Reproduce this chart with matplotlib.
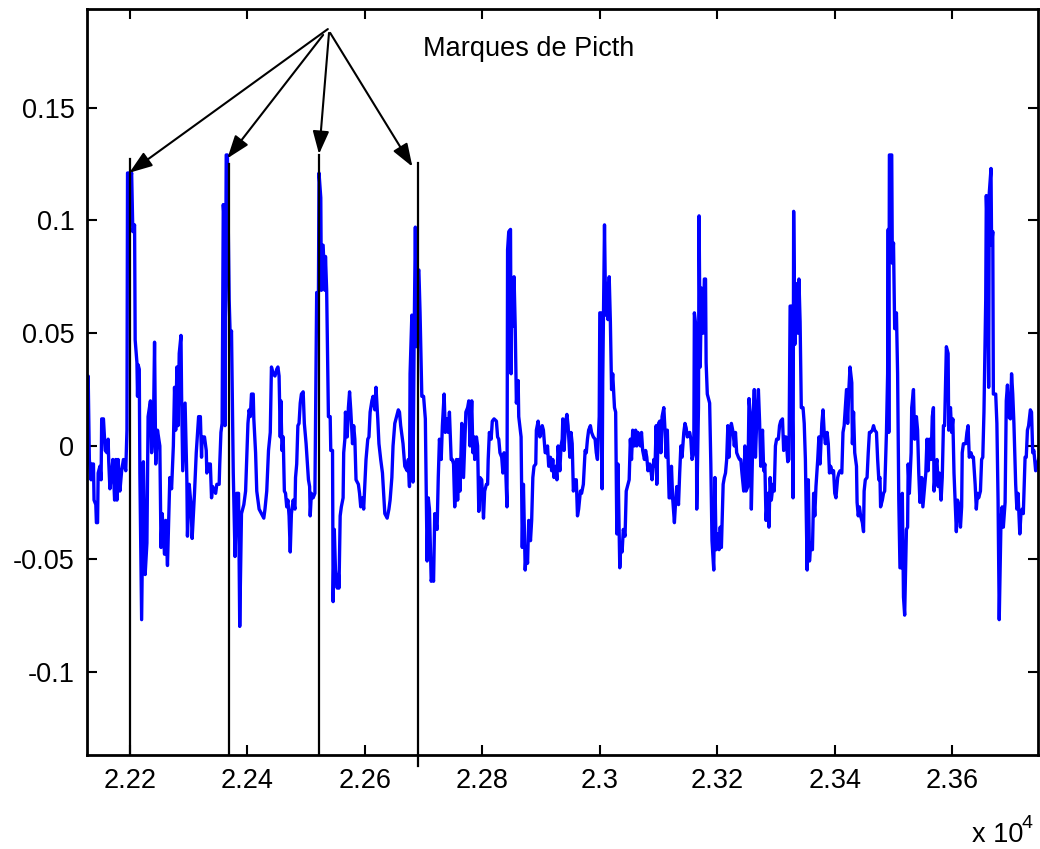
import matplotlib
matplotlib.use("Agg")
import matplotlib.pyplot as plt
from matplotlib.ticker import FixedLocator, FuncFormatter

plt.rcParams['font.family'] = ['Liberation Sans', 'DejaVu Sans']
plt.rcParams['axes.unicode_minus'] = False

# ---- speech signal (sample index, amplitude) ----
cycle1 = [(22127, 0.010), (22129, 0.031), (22131, -0.006), (22134, -0.015), (22135, -0.008),
          (22138, -0.008), (22139, -0.024), (22142, -0.026), (22143, -0.034), (22145, -0.034),
          (22146, -0.012), (22149, -0.009), (22151, -0.015), (22152, 0.012), (22155, 0.012),
          (22158, -0.002), (22161, -0.003), (22163, 0.003), (22164, -0.007), (22166, -0.019),
          (22169, -0.012), (22171, -0.006), (22174, -0.024), (22176, -0.006), (22178, -0.024),
          (22180, -0.006), (22183, -0.020), (22186, -0.011), (22189, -0.006), (22193, -0.011),
          (22195, 0.007), (22196, 0.121), (22198, 0.121), (22201, 0.118), (22203, 0.121),
          (22205, 0.095), (22208, 0.098), (22209, 0.047), (22212, 0.037), (22213, 0.022),
          (22214, 0.036), (22216, 0.034), (22217, -0.012), (22220, -0.077), (22223, -0.007),
          (22226, -0.057), (22229, -0.043), (22231, 0.013), (22235, 0.020), (22237, -0.003),
          (22240, 0.007), (22242, 0.046), (22244, -0.008), (22247, 0.007), (22251, 0.000),
          (22253, -0.045), (22255, -0.030), (22259, -0.048), (22261, -0.033), (22264, -0.053),
          (22268, -0.014), (22271, -0.019), (22274, 0.000), (22276, 0.026), (22278, 0.007),
          (22280, 0.035), (22282, 0.009), (22284, 0.041), (22287, 0.049), (22288, 0.023),
          (22290, -0.011), (22294, 0.019), (22297, -0.015), (22298, -0.040), (22301, -0.017),
          (22304, -0.026), (22306, -0.041), (22310, -0.021), (22313, -0.003), (22317, 0.013),
          (22320, 0.013), (22322, -0.005), (22323, 0.004), (22327, 0.004), (22330, -0.002),
          (22331, -0.012), (22334, -0.008), (22337, -0.008), (22339, -0.023), (22341, -0.018),
          (22346, -0.021), (22348, -0.017), (22352, -0.017), (22353, -0.008), (22355, 0.006),
          (22357, 0.010), (22359, 0.107), (22361, 0.098), (22362, 0.009), (22364, 0.129),
          (22366, 0.129), (22369, 0.065), (22371, 0.047), (22373, 0.051), (22376, -0.012),
          (22379, -0.049), (22382, -0.021), (22385, -0.021), (22387, -0.080), (22390, -0.030),
          (22394, -0.026), (22397, -0.020), (22401, 0.010), (22403, 0.016), (22405, 0.013),
          (22407, 0.023), (22410, 0.023), (22411, 0.012), (22414, -0.003), (22416, -0.020),
          (22420, -0.028), (22424, -0.030), (22428, -0.032), (22430, -0.028), (22433, -0.020),
          (22436, -0.002), (22439, 0.006), (22441, 0.035), (22444, 0.032)]

cycle2 = [(22447, 0.031), (22450, 0.034), (22452, 0.035), (22454, 0.031), (22456, 0.004),
          (22457, 0.020), (22459, -0.002), (22461, 0.004), (22463, -0.020), (22465, -0.021),
          (22467, -0.027), (22469, -0.024), (22471, -0.031), (22473, -0.047), (22475, -0.030),
          (22478, -0.024), (22481, -0.028), (22482, -0.014), (22484, -0.008), (22486, 0.009),
          (22488, 0.010), (22490, 0.019), (22492, 0.023), (22495, 0.024), (22497, 0.010),
          (22500, 0.001), (22504, -0.015), (22506, -0.018), (22507, -0.031), (22509, -0.021),
          (22512, -0.023), (22515, -0.021), (22518, 0.068), (22521, 0.068), (22522, 0.121),
          (22525, 0.110), (22526, 0.069), (22529, 0.089), (22532, 0.069), (22533, 0.084),
          (22535, 0.069), (22538, 0.013), (22541, 0.013), (22542, -0.002), (22545, -0.002),
          (22546, -0.069), (22548, -0.037), (22550, -0.055), (22553, -0.063), (22555, -0.057),
          (22556, -0.063), (22558, -0.031), (22560, -0.027), (22563, -0.023), (22564, -0.003),
          (22566, 0.003), (22567, 0.015), (22570, 0.004), (22572, 0.017), (22574, 0.024),
          (22576, 0.016), (22579, 0.001), (22581, 0.009), (22583, 0.003), (22585, -0.015),
          (22589, -0.017), (22591, -0.021), (22593, -0.027), (22596, -0.023), (22598, -0.028),
          (22600, -0.017), (22602, -0.006), (22605, 0.003), (22607, 0.004), (22609, 0.015),
          (22612, 0.020), (22614, 0.022), (22617, 0.016), (22619, 0.026), (22622, 0.012),
          (22624, 0.001), (22627, -0.006), (22630, -0.012), (22632, -0.021), (22634, -0.030),
          (22638, -0.032), (22641, -0.028), (22643, -0.024), (22646, -0.014), (22648, 0.000),
          (22651, 0.010), (22654, 0.013), (22657, 0.016), (22659, 0.015), (22661, 0.009),
          (22665, 0.001), (22668, -0.009), (22672, -0.011), (22674, -0.006), (22676, -0.018),
          (22677, 0.032), (22680, 0.058), (22682, -0.016), (22684, 0.050), (22686, 0.097),
          (22688, 0.044), (22690, 0.077), (22692, 0.078), (22694, 0.059), (22697, 0.022),
          (22700, 0.022), (22703, 0.012), (22706, -0.051), (22708, -0.023), (22710, -0.028),
          (22713, -0.060), (22715, -0.057), (22717, -0.060), (22719, -0.030), (22723, -0.037),
          (22725, -0.014), (22727, 0.003), (22730, -0.006), (22732, 0.009), (22735, 0.023),
          (22737, 0.006), (22740, 0.012), (22742, 0.006), (22744, 0.015), (22747, -0.006),
          (22749, -0.006), (22751, -0.008), (22753, -0.027), (22756, -0.006), (22758, -0.024),
          (22760, -0.006), (22762, -0.020), (22765, 0.010), (22768, -0.014)]

cycle3 = [(22772, 0.015), (22775, 0.017), (22777, 0.020), (22779, 0.000), (22782, 0.020),
          (22784, -0.003), (22786, 0.004), (22787, -0.006), (22790, 0.004), (22792, 0.000),
          (22794, -0.029), (22796, -0.014), (22799, -0.015), (22802, -0.032), (22804, -0.020),
          (22807, -0.017), (22809, -0.017), (22810, -0.006), (22812, 0.006), (22815, 0.003),
          (22817, 0.011), (22820, 0.012), (22824, 0.011), (22826, 0.004), (22828, 0.003),
          (22830, -0.003), (22833, -0.005), (22835, -0.012), (22837, -0.003), (22840, -0.012),
          (22842, -0.027), (22843, 0.087), (22845, 0.095), (22848, 0.096), (22849, 0.032),
          (22850, 0.071), (22852, 0.053), (22854, 0.075), (22856, 0.053), (22858, 0.019),
          (22861, 0.029), (22862, 0.013), (22866, 0.004), (22868, -0.045), (22870, -0.017),
          (22873, -0.055), (22875, -0.046), (22877, -0.052), (22879, -0.033), (22882, -0.042),
          (22884, -0.033), (22886, -0.014), (22888, -0.009), (22891, -0.008), (22892, 0.007),
          (22895, 0.011), (22898, 0.004), (22900, 0.007), (22902, 0.009), (22904, 0.007),
          (22907, -0.003), (22909, -0.003), (22911, 0.000), (22913, -0.009), (22916, -0.005),
          (22918, -0.011), (22920, -0.006), (22922, -0.014), (22925, -0.009), (22927, -0.015),
          (22929, 0.000), (22932, -0.011), (22934, 0.000), (22936, 0.003), (22937, 0.012),
          (22939, -0.002), (22942, 0.011), (22944, 0.014), (22946, 0.009), (22949, -0.005),
          (22951, 0.006), (22953, 0.001), (22955, -0.020), (22958, -0.015), (22960, -0.015),
          (22962, -0.031), (22964, -0.028), (22967, -0.020), (22969, -0.021), (22972, -0.017),
          (22975, -0.002), (22977, -0.003), (22979, 0.003), (22981, 0.007), (22984, 0.009),
          (22986, 0.006), (22989, 0.004), (22992, 0.003), (22994, -0.003), (22996, -0.006),
          (22999, 0.013), (23000, 0.059), (23002, 0.059), (23004, -0.019), (23005, 0.029),
          (23008, 0.098), (23010, 0.058), (23012, 0.072), (23014, 0.056), (23016, 0.075),
          (23018, 0.055), (23020, 0.025), (23022, 0.032), (23025, 0.017), (23027, 0.015),
          (23029, -0.039), (23031, -0.008), (23034, -0.054), (23036, -0.043), (23038, -0.047),
          (23040, -0.037), (23043, -0.040), (23045, -0.020), (23047, -0.018), (23050, -0.015),
          (23052, 0.003), (23054, -0.006), (23056, 0.007), (23059, 0.000), (23061, 0.007),
          (23063, 0.000), (23065, 0.006), (23069, 0.000), (23071, 0.006), (23073, -0.002),
          (23076, -0.006), (23078, -0.002), (23080, -0.005), (23082, -0.011), (23085, -0.008),
          (23087, -0.011), (23089, -0.015), (23092, -0.006)]

cycle4 = [(23094, -0.009), (23096, 0.009), (23097, -0.017), (23100, 0.010), (23102, 0.011),
          (23104, -0.003), (23106, 0.013), (23109, 0.017), (23111, 0.007), (23113, -0.005),
          (23115, 0.007), (23118, -0.023), (23120, -0.023), (23122, -0.009), (23124, -0.023),
          (23127, -0.034), (23129, -0.025), (23131, -0.018), (23134, -0.026), (23136, -0.012),
          (23138, 0.000), (23140, -0.005), (23143, 0.006), (23145, 0.010), (23147, 0.008),
          (23149, 0.004), (23153, 0.006), (23155, 0.003), (23157, -0.006), (23160, -0.003),
          (23161, 0.059), (23164, 0.052), (23165, -0.028), (23168, 0.017), (23169, 0.102),
          (23171, 0.035), (23173, 0.070), (23176, 0.050), (23178, 0.074), (23180, 0.074),
          (23181, 0.037), (23183, 0.023), (23187, 0.019), (23189, -0.008), (23191, -0.042),
          (23194, -0.055), (23196, -0.014), (23198, -0.046), (23200, -0.039), (23203, -0.046),
          (23205, -0.036), (23207, -0.045), (23210, -0.017), (23212, -0.014), (23214, -0.012),
          (23216, -0.006), (23218, 0.009), (23220, -0.005), (23222, 0.006), (23224, 0.010),
          (23227, 0.006), (23229, 0.000), (23231, 0.006), (23233, -0.003), (23236, -0.005),
          (23238, -0.006), (23240, -0.006), (23242, -0.012), (23245, -0.020), (23247, 0.000),
          (23249, -0.020), (23252, -0.018), (23254, 0.021), (23256, 0.015), (23258, -0.028),
          (23261, 0.010), (23263, 0.025), (23265, -0.005), (23267, 0.010), (23270, 0.025),
          (23272, 0.011), (23274, -0.009), (23277, 0.007), (23279, -0.011), (23281, -0.008),
          (23283, -0.033), (23286, -0.021), (23288, -0.036), (23290, -0.014), (23292, -0.024),
          (23295, -0.017), (23297, -0.020), (23299, 0.000), (23301, 0.003), (23304, 0.003),
          (23306, 0.009), (23308, 0.011), (23311, 0.012), (23313, -0.002), (23315, 0.004),
          (23317, 0.004), (23320, -0.007), (23322, -0.006), (23324, 0.062), (23326, 0.062),
          (23329, -0.023), (23330, 0.104), (23332, 0.045), (23334, 0.072), (23337, 0.050),
          (23339, 0.074), (23341, 0.055), (23343, 0.017), (23346, 0.017), (23348, 0.010),
          (23350, -0.006), (23353, -0.055), (23355, -0.015), (23357, -0.051), (23359, -0.043),
          (23362, -0.046), (23364, -0.021), (23366, -0.031), (23368, -0.018), (23371, -0.006),
          (23373, 0.004), (23375, -0.008), (23378, 0.010), (23380, 0.016), (23382, 0.006),
          (23384, 0.001), (23387, 0.006), (23389, 0.001), (23391, -0.012), (23393, -0.009),
          (23396, -0.012), (23398, -0.011), (23400, -0.021), (23402, -0.023), (23405, -0.014),
          (23407, -0.012), (23409, -0.011), (23412, -0.012), (23414, 0.006), (23416, 0.009)]

cycle5 = [(23420, 0.025), (23422, 0.010), (23424, 0.025), (23426, 0.035), (23429, 0.028),
          (23430, 0.001), (23432, 0.015), (23434, -0.003), (23437, -0.009), (23438, -0.025),
          (23440, -0.031), (23442, -0.027), (23444, -0.031), (23447, -0.034), (23449, -0.038),
          (23450, -0.020), (23452, -0.015), (23455, -0.014), (23457, -0.003), (23459, 0.006),
          (23461, 0.006), (23464, 0.007), (23466, 0.009), (23468, 0.007), (23471, 0.006),
          (23473, -0.006), (23475, -0.015), (23477, -0.014), (23478, -0.027), (23481, -0.024),
          (23483, -0.021), (23485, -0.020), (23488, 0.006), (23490, 0.032), (23491, 0.096),
          (23492, 0.006), (23493, 0.129), (23497, 0.129), (23498, 0.081), (23500, 0.090),
          (23502, 0.052), (23505, 0.059), (23507, 0.032), (23509, -0.024), (23511, -0.054),
          (23514, -0.054), (23515, -0.021), (23517, -0.067), (23519, -0.075), (23522, -0.037),
          (23524, -0.036), (23525, -0.008), (23527, -0.021), (23530, -0.003), (23531, 0.017),
          (23534, 0.025), (23536, 0.003), (23539, 0.013), (23541, 0.007), (23543, -0.012),
          (23545, -0.025), (23548, -0.014), (23550, -0.027), (23552, -0.021), (23555, -0.012),
          (23557, 0.003), (23559, -0.011), (23561, 0.003), (23564, -0.006), (23566, 0.013),
          (23568, 0.017), (23569, -0.020), (23572, -0.009), (23574, -0.006), (23576, -0.018),
          (23578, -0.012), (23581, -0.024), (23583, -0.014), (23585, 0.009), (23587, 0.009),
          (23590, 0.044), (23593, 0.041), (23594, 0.007), (23597, 0.017), (23599, 0.006),
          (23601, 0.012), (23603, -0.012), (23607, -0.038), (23609, -0.024), (23611, -0.026),
          (23614, -0.036), (23616, -0.027), (23617, -0.003), (23619, 0.001), (23623, 0.001),
          (23625, 0.006), (23627, 0.009), (23629, -0.005), (23632, -0.003), (23634, -0.005),
          (23636, -0.005), (23639, -0.017), (23641, -0.028), (23643, -0.021), (23645, -0.023),
          (23648, -0.020), (23650, -0.006), (23652, -0.005), (23654, 0.015), (23657, 0.065),
          (23658, 0.111), (23660, 0.092), (23662, 0.026), (23663, 0.112), (23666, 0.123),
          (23667, 0.089), (23669, 0.095), (23670, 0.023), (23674, 0.023), (23676, 0.010),
          (23678, -0.024), (23680, -0.077), (23683, -0.033), (23685, -0.027), (23687, -0.036),
          (23690, -0.025), (23692, 0.020), (23694, 0.027), (23696, 0.013), (23699, 0.012),
          (23701, 0.032), (23703, 0.023), (23705, 0.010), (23708, -0.017), (23710, -0.028),
          (23712, -0.021), (23715, -0.039), (23717, -0.030), (23719, -0.028), (23721, -0.030),
          (23724, -0.005), (23726, -0.005), (23728, 0.007), (23730, 0.009), (23733, 0.016),
          (23735, 0.015), (23737, -0.003), (23739, -0.002), (23742, -0.011), (23747, -0.006)]

# ---- pitch marks ----
pitch_pos = [22200, 22368, 22522, 22690]
pitch_top = [0.127, 0.125, 0.129, 0.1255]
pitch_bottom = [-0.15, -0.15, -0.15, -0.142]
pitch_clipped = [True, True, True, False]

# arrows (tail -> head) pointing at the marks
arrow_tail_x = [22537, 22529, 22539, 22541]
arrow_tail_y = [0.1848, 0.1822, 0.1831, 0.1831]
arrow_head_x = [22199, 22366, 22522, 22681]
arrow_head_y = [0.1211, 0.1275, 0.1294, 0.1238]

annotation_text = "Marques de Picth"
annotation_pos = (22699, 0.173)

x_ticks = [22200, 22400, 22600, 22800, 23000, 23200, 23400, 23600]
y_ticks = [-0.1, -0.05, 0, 0.05, 0.1, 0.15]
x_lim = (22127, 23746)
y_lim = (-0.137, 0.1937)

signal = cycle1 + cycle2 + cycle3 + cycle4 + cycle5
sx = [p[0] for p in signal]
sy = [p[1] for p in signal]

W, H = 1040, 849
fig = plt.figure(figsize=(W / 100, H / 100), dpi=100)
ax = fig.add_axes([87 / W, 94 / H, 951 / W, 746 / H])

ax.plot(sx, sy, color='#0000ff', lw=2.4, zorder=2)

for xp, top, bot, clip in zip(pitch_pos, pitch_top, pitch_bottom, pitch_clipped):
    ax.plot([xp, xp], [bot, top], color='black', lw=1.6, clip_on=clip, zorder=3)

for tx, ty, hx, hy in zip(arrow_tail_x, arrow_tail_y, arrow_head_x, arrow_head_y):
    ax.annotate('', xy=(hx, hy), xytext=(tx, ty),
                arrowprops=dict(arrowstyle='-|>,head_length=0.7,head_width=0.25',
                                color='black', lw=1.5, mutation_scale=20,
                                shrinkA=0, shrinkB=0), zorder=4)

ax.text(annotation_pos[0], annotation_pos[1], annotation_text, fontsize=19.5,
        ha='left', va='baseline', color='black')

ax.set_xlim(*x_lim)
ax.set_ylim(*y_lim)
ax.xaxis.set_major_locator(FixedLocator(x_ticks))
ax.yaxis.set_major_locator(FixedLocator(y_ticks))
ax.xaxis.set_major_formatter(FuncFormatter(lambda v, p: f"{v / 1e4:g}"))
ax.yaxis.set_major_formatter(FuncFormatter(lambda v, p: f"{v:g}"))
ax.tick_params(direction='in', length=7, width=1.5, top=True, right=True,
               labelsize=19.5, pad=9, colors='black')
for s in ax.spines.values():
    s.set_linewidth(2.0)
    s.set_color('black')

fig.text(972 / W, (H - 842) / H, "x 10", fontsize=19.5, ha='left', va='baseline')
fig.text(1022 / W, (H - 828) / H, "4", fontsize=14, ha='left', va='baseline')

fig.savefig('out.png', dpi=100)
